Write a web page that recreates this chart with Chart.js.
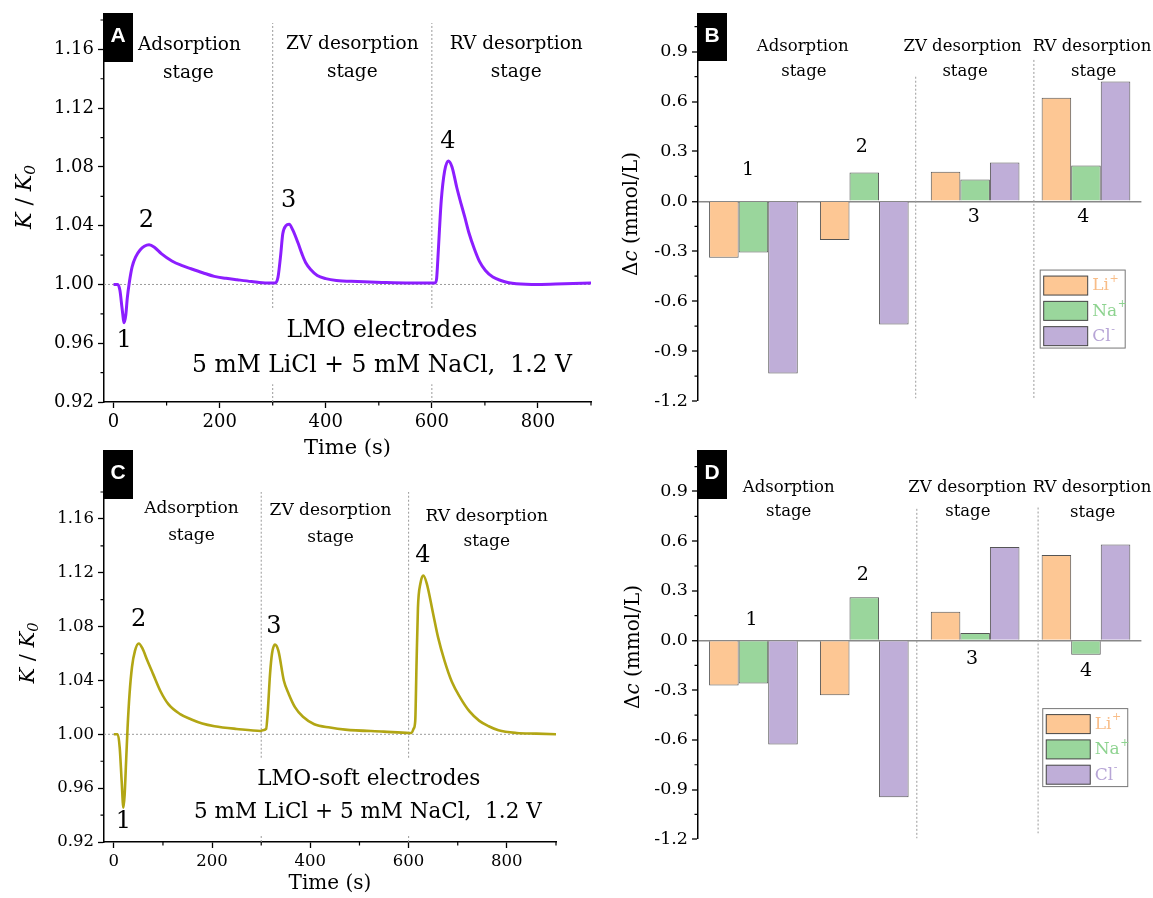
<!DOCTYPE html>
<html>
<head>
<meta charset="utf-8">
<script src="https://cdn.jsdelivr.net/npm/chart.js@4.4.1/dist/chart.umd.min.js"></script>
<style>
  body { margin: 0; background: #fff; }
  #wrap { position: relative; width: 1153px; height: 898px; overflow: hidden; }
  canvas { position: absolute; }
</style>
</head>
<body>
<div id="wrap">
  <canvas id="chartA" width="600" height="470" style="left:0px;top:0px"></canvas>
  <canvas id="chartC" width="600" height="458" style="left:0px;top:440px"></canvas>
  <canvas id="chartB" width="553" height="440" style="left:600px;top:0px"></canvas>
  <canvas id="chartD" width="553" height="458" style="left:600px;top:440px"></canvas>
</div>
<script>
// ---- data ----
const kTicks = [0.92, 0.96, 1.00, 1.04, 1.08, 1.12, 1.16];
const timeTicks = [0, 200, 400, 600, 800];
const dcTicks = [-1.2, -0.9, -0.6, -0.3, 0, 0.3, 0.6, 0.9];

// panel A, LMO electrodes
const timeA = [0, 8, 12, 16, 20, 23, 26, 30, 35, 42, 50, 58, 67, 78, 90, 110, 128, 146, 168, 190, 212, 233, 260, 290,
  304, 310, 315, 319, 325, 331, 338, 348, 355, 362, 372, 384, 400, 420, 460, 506, 560,
  606, 609, 610.5, 614, 617.7, 624, 631, 638, 647, 655, 662, 670, 680, 690, 701, 715, 730, 745, 759, 800, 850, 900];
const ratioA = [1.000, 1.000, 0.996, 0.984, 0.974, 0.979, 0.991, 1.002, 1.012, 1.019, 1.0235, 1.026, 1.027, 1.025, 1.021, 1.016, 1.013, 1.0107, 1.008, 1.0055, 1.0042, 1.0032, 1.002, 1.001,
  1.001, 1.005, 1.020, 1.0345, 1.040, 1.041, 1.037, 1.028, 1.021, 1.015, 1.010, 1.0061, 1.004, 1.0027, 1.002, 1.0014, 1.001,
  1.001, 1.004, 1.012, 1.035, 1.057, 1.077, 1.084, 1.080, 1.066, 1.055, 1.046, 1.035, 1.0243, 1.0155, 1.0095, 1.005, 1.0027, 1.0012, 1.0005, 1.000, 1.0005, 1.001];

// panel C, LMO-soft electrodes
const timeC = [0, 8, 12, 16, 19.5, 22, 25, 28, 32, 37, 43, 50.8, 58, 68, 80, 95, 111, 135, 158, 180, 205, 250, 299,
  303, 310, 313, 318, 322, 328, 335, 346, 356, 369, 385, 408, 440, 471, 549, 602,
  606, 610, 613.5, 616, 619, 624, 630, 637, 650, 660, 673, 688, 705, 724, 744, 763, 783, 820, 860, 900];
const ratioC = [1.000, 1.000, 0.990, 0.965, 0.9455, 0.955, 0.980, 1.005, 1.030, 1.050, 1.062, 1.0675, 1.064, 1.055, 1.0447, 1.032, 1.0224, 1.015, 1.011, 1.008, 1.006, 1.004, 1.0025,
  1.003, 1.004, 1.015, 1.045, 1.060, 1.0666, 1.062, 1.040, 1.030, 1.020, 1.013, 1.0075, 1.005, 1.0035, 1.002, 1.001,
  1.001, 1.004, 1.010, 1.050, 1.094, 1.112, 1.118, 1.112, 1.0894, 1.072, 1.0547, 1.039, 1.0273, 1.017, 1.010, 1.006, 1.003, 1.001, 1.0005, 1.000];

// panels B and D, concentration change (mmol/L) per stage
const stages = ['1', '2', '3', '4'];
const ions = ['Li', 'Na', 'Cl'];
const ionCharge = ['+', '+', '-'];
const liB = [-0.339, -0.233, 0.178, 0.623];
const naB = [-0.307, 0.174, 0.132, 0.216];
const clB = [-1.034, -0.740, 0.234, 0.721];
const liD = [-0.271, -0.331, 0.173, 0.516];
const naD = [-0.259, 0.261, 0.046, -0.086];
const clD = [-0.628, -0.946, 0.564, 0.580];

const SERIF = '"DejaVu Serif", serif';
const fills = ['#FDC794', '#9AD69C', '#BFAED8'];
const textCols = ['#F8BD88', '#8ED390', '#B7A5D6'];

function drawParts(ctx, parts, cx, cy, size) {
  ctx.save();
  ctx.translate(cx, cy);
  ctx.rotate(-Math.PI / 2);
  const fonts = parts.map(p => (p.it ? 'italic ' : '') + (p.sub ? size * 0.7 : size) + 'px ' + SERIF);
  let w = 0;
  parts.forEach((p, i) => { ctx.font = fonts[i]; w += ctx.measureText(p.t).width; });
  let xx = -w / 2;
  ctx.textBaseline = 'middle';
  ctx.textAlign = 'left';
  ctx.fillStyle = '#000';
  parts.forEach((p, i) => {
    ctx.font = fonts[i];
    ctx.fillText(p.t, xx, p.sub ? size * 0.28 : 0);
    xx += ctx.measureText(p.t).width;
  });
  ctx.restore();
}

function minorTicks(ctx, scale, ticks, horizontal, ca) {
  const half = (ticks[1] - ticks[0]) / 2;
  ctx.beginPath();
  for (let v = ticks[0] - half; v <= scale.max + 1e-9; v += 2 * half) {
    if (v < scale.min - 1e-9) continue;
    const p = scale.getPixelForValue(v);
    if (horizontal) { ctx.moveTo(p, ca.bottom); ctx.lineTo(p, ca.bottom + 3.5); }
    else { ctx.moveTo(ca.left, p); ctx.lineTo(ca.left - 3.5, p); }
  }
  ctx.stroke();
}

const decor = {
  id: 'decor',
  beforeDatasetsDraw(chart, args, o) {
    const { ctx, chartArea: ca, scales: { x, y } } = chart;
    ctx.save();
    ctx.strokeStyle = '#9a9a9a';
    ctx.lineWidth = 1;
    ctx.setLineDash([2, 2]);
    (o.vlines || []).forEach(l => {
      const px = x.getPixelForValue(l.x);
      l.segs.forEach(s => {
        ctx.beginPath();
        ctx.moveTo(px, y.getPixelForValue(s[0]));
        ctx.lineTo(px, y.getPixelForValue(s[1]));
        ctx.stroke();
      });
    });
    if (o.hline !== undefined) {
      const py = y.getPixelForValue(o.hline);
      ctx.beginPath();
      ctx.moveTo(ca.left, py);
      ctx.lineTo(ca.right, py);
      ctx.stroke();
    }
    ctx.restore();
  },
  afterDraw(chart, args, o) {
    const { ctx, chartArea: ca, scales: { x, y } } = chart;
    ctx.save();
    ctx.strokeStyle = '#000';
    ctx.lineWidth = 1.2;
    minorTicks(ctx, y, o.yTicks, false, ca);
    if (o.xTicks) minorTicks(ctx, x, o.xTicks, true, ca);

    ctx.fillStyle = '#000';
    ctx.textAlign = 'center';
    ctx.textBaseline = 'middle';
    o.texts.forEach(t => {
      ctx.font = t.s + 'px ' + SERIF;
      ctx.fillText(t.t, x.getPixelForValue(t.x), y.getPixelForValue(t.y));
    });

    // panel letter
    ctx.fillStyle = '#000';
    ctx.fillRect(ca.left - 1, o.box[0], 30, o.box[1] - o.box[0]);
    ctx.fillStyle = '#fff';
    ctx.font = 'bold 21px "Liberation Sans", Arial, sans-serif';
    ctx.fillText(o.letter, ca.left + 14, (o.box[0] + o.box[1]) / 2 - 1);

    drawParts(ctx, o.yTitle.parts, o.yTitle.x, o.yTitle.y, o.yTitle.s);

    if (o.legend) {
      const lx = x.getPixelForValue(o.legend.x), ly = y.getPixelForValue(o.legend.y);
      ctx.lineWidth = 1;
      ctx.strokeStyle = '#777';
      ctx.strokeRect(lx, ly, 85, 78);
      ions.forEach((ion, i) => {
        const sy = ly + 6 + i * 25.3;
        ctx.fillStyle = fills[i];
        ctx.fillRect(lx + 3.5, sy, 44, 19);
        ctx.strokeStyle = '#444';
        ctx.strokeRect(lx + 3.5, sy, 44, 19);
        ctx.fillStyle = textCols[i];
        ctx.textAlign = 'left';
        ctx.font = '17px ' + SERIF;
        ctx.fillText(ion, lx + 52, sy + 10);
        const w = ctx.measureText(ion).width;
        ctx.font = '11px ' + SERIF;
        ctx.fillText(ionCharge[i], lx + 52 + w + 0.5, sy + 3);
      });
    }
    ctx.restore();
  }
};

function lineChart(id, xs, ys, color, lw, xMin, o) {
  return new Chart(document.getElementById(id), {
    type: 'line',
    data: {
      datasets: [{
        data: xs.map((t, i) => ({ x: t, y: ys[i] })),
        borderColor: color, borderWidth: lw, pointRadius: 0,
        cubicInterpolationMode: 'monotone', fill: false
      }]
    },
    options: {
      responsive: false, animation: false, events: [],
      layout: { padding: o.pad },
      plugins: { legend: { display: false }, tooltip: { enabled: false }, decor: o },
      scales: {
        x: {
          type: 'linear', min: xMin, max: 900,
          afterBuildTicks: s => { s.ticks = timeTicks.map(v => ({ value: v })); },
          afterFit: s => { s.height = o.xh; },
          ticks: { autoSkip: false, maxRotation: 0, padding: 4, color: '#000', font: { family: SERIF, size: o.tick } },
          grid: { drawOnChartArea: false, tickLength: 6, color: '#000', tickWidth: 1.3 },
          border: { color: '#000', width: 1.5 },
          title: { display: true, text: 'Time (s)', color: '#000', font: { family: SERIF, size: o.xTitle[0] }, padding: { top: 0, bottom: o.xTitle[1] } }
        },
        y: {
          min: 0.92, max: 1.18,
          afterBuildTicks: s => { s.ticks = kTicks.map(v => ({ value: v })); },
          afterFit: s => { s.width = o.yw; },
          ticks: { autoSkip: false, padding: 4, color: '#000', font: { family: SERIF, size: o.tick }, callback: v => v.toFixed(2) },
          grid: { drawOnChartArea: false, tickLength: 6, color: '#000', tickWidth: 1.3 },
          border: { color: '#000', width: 1.5 }
        }
      }
    },
    plugins: [decor]
  });
}

function barChart(id, li, na, cl, o) {
  const sets = [li, na, cl].map((d, i) => ({
    label: ions[i] + ionCharge[i], data: d,
    backgroundColor: fills[i], borderColor: '#555', borderWidth: 1
  }));
  return new Chart(document.getElementById(id), {
    type: 'bar',
    data: { labels: stages, datasets: sets },
    options: {
      responsive: false, animation: false, events: [],
      layout: { padding: o.pad },
      datasets: { bar: { categoryPercentage: 0.8, barPercentage: 1 } },
      plugins: { legend: { display: false }, tooltip: { enabled: false }, decor: o },
      scales: {
        x: { display: false },
        y: {
          min: -1.2, max: 1.12,
          afterBuildTicks: s => { s.ticks = dcTicks.map(v => ({ value: v })); },
          afterFit: s => { s.width = o.yw; },
          ticks: { autoSkip: false, padding: 4, color: '#000', font: { family: SERIF, size: o.tick }, callback: v => v.toFixed(1) },
          grid: {
            drawOnChartArea: true, tickLength: 6, tickColor: '#000', tickWidth: 1.3,
            color: c => (c.tick && c.tick.value === 0 ? '#888' : 'rgba(0,0,0,0)'),
            lineWidth: c => (c.tick && c.tick.value === 0 ? 1.5 : 0)
          },
          border: { color: '#000', width: 1.5 }
        }
      }
    },
    plugins: [decor]
  });
}

const kTitle = [{ t: 'K', it: true }, { t: ' / ' }, { t: 'K', it: true }, { t: '0', it: true, sub: true }];
const dcTitle = [{ t: '\u0394' }, { t: 'c', it: true }, { t: ' (mmol/L)' }];

lineChart('chartA', timeA, ratioA, '#8C1EFF', 3, -18, {
  pad: { left: 0, top: 20, right: 9, bottom: 0 }, xh: 68, yw: 104, tick: 18, xTitle: [21, 8.4],
  yTicks: kTicks, xTicks: timeTicks, hline: 1.0, letter: 'A', box: [13, 62],
  yTitle: { parts: kTitle, x: 25, y: 197, s: 22 },
  vlines: [{ x: 300, segs: [[0.984, 1.178], [0.92, 0.932]] }, { x: 600, segs: [[0.984, 1.178], [0.92, 0.932]] }],
  texts: [
    { t: 'Adsorption', x: 143, y: 1.163, s: 18.5 }, { t: 'stage', x: 141, y: 1.1439, s: 18.5 },
    { t: 'ZV desorption', x: 450, y: 1.1636, s: 18.5 }, { t: 'stage', x: 450, y: 1.1445, s: 18.5 },
    { t: 'RV desorption', x: 759, y: 1.1636, s: 18.5 }, { t: 'stage', x: 759, y: 1.1445, s: 18.5 },
    { t: '1', x: 20, y: 0.9618, s: 24 }, { t: '2', x: 62, y: 1.0436, s: 24 },
    { t: '3', x: 330, y: 1.0573, s: 24 }, { t: '4', x: 630, y: 1.097, s: 24 },
    { t: 'LMO electrodes', x: 506, y: 0.9686, s: 23.5 },
    { t: '5 mM LiCl + 5 mM NaCl,  1.2 V', x: 506, y: 0.9448, s: 23.5 }
  ]
});

lineChart('chartC', timeC, ratioC, '#B2A614', 2.6, -20, {
  pad: { left: 0, top: 52, right: 44, bottom: 0 }, xh: 56, yw: 104, tick: 16.5, xTitle: [20, 2],
  yTicks: kTicks, xTicks: timeTicks, hline: 1.0, letter: 'C', box: [10, 59],
  yTitle: { parts: kTitle, x: 28.7, y: 213, s: 21 },
  vlines: [{ x: 300, segs: [[0.9826, 1.18], [0.92, 0.926]] }, { x: 600, segs: [[0.9826, 1.18], [0.92, 0.926]] }],
  texts: [
    { t: 'Adsorption', x: 158, y: 1.1677, s: 17 }, { t: 'stage', x: 158, y: 1.1478, s: 17 },
    { t: 'ZV desorption', x: 441, y: 1.1664, s: 17 }, { t: 'stage', x: 441, y: 1.146, s: 17 },
    { t: 'RV desorption', x: 759, y: 1.162, s: 17 }, { t: 'stage', x: 759, y: 1.1428, s: 17 },
    { t: '1', x: 19.5, y: 0.935, s: 24 }, { t: '2', x: 50.7, y: 1.085, s: 24 },
    { t: '3', x: 326, y: 1.080, s: 24 }, { t: '4', x: 629, y: 1.133, s: 24 },
    { t: 'LMO-soft electrodes', x: 519, y: 0.9665, s: 21.5 },
    { t: '5 mM LiCl + 5 mM NaCl,  1.2 V', x: 517, y: 0.9423, s: 21.5 }
  ]
});

barChart('chartB', liB, naB, clB, {
  pad: { left: 0, top: 15, right: 11.6, bottom: 39 }, yw: 98, tick: 17.5,
  yTicks: dcTicks, letter: 'B', box: [13, 61],
  yTitle: { parts: dcTitle, x: 31.7, y: 214, s: 20 },
  legend: { x: 2.587, y: -0.413 },
  vlines: [{ x: 1.464, segs: [[0.749, -1.183]] }, { x: 2.53, segs: [[0.85, -1.183]] }],
  texts: [
    { t: 'Adsorption', x: 0.445, y: 0.93, s: 16.5 }, { t: 'stage', x: 0.455, y: 0.779, s: 16.5 },
    { t: 'ZV desorption', x: 1.887, y: 0.928, s: 16.5 }, { t: 'stage', x: 1.909, y: 0.779, s: 16.5 },
    { t: 'RV desorption', x: 3.054, y: 0.928, s: 16.5 }, { t: 'stage', x: 3.07, y: 0.779, s: 16.5 },
    { t: '1', x: -0.048, y: 0.188, s: 19 }, { t: '2', x: 0.977, y: 0.328, s: 19 },
    { t: '3', x: 1.989, y: -0.093, s: 19 }, { t: '4', x: 2.975, y: -0.093, s: 19 }
  ]
});

barChart('chartD', liD, naD, clD, {
  pad: { left: 0, top: 15, right: 11.6, bottom: 58.7 }, yw: 98, tick: 17.5,
  yTicks: dcTicks, letter: 'D', box: [10, 59],
  yTitle: { parts: dcTitle, x: 33.5, y: 207, s: 20 },
  legend: { x: 2.61, y: -0.411 },
  vlines: [{ x: 1.474, segs: [[0.795, -1.193]] }, { x: 2.568, segs: [[0.803, -1.163]] }],
  texts: [
    { t: 'Adsorption', x: 0.318, y: 0.923, s: 16.5 }, { t: 'stage', x: 0.318, y: 0.779, s: 16.5 },
    { t: 'ZV desorption', x: 1.931, y: 0.923, s: 16.5 }, { t: 'stage', x: 1.934, y: 0.779, s: 16.5 },
    { t: 'RV desorption', x: 3.054, y: 0.92, s: 16.5 }, { t: 'stage', x: 3.061, y: 0.773, s: 16.5 },
    { t: '1', x: -0.016, y: 0.125, s: 19 }, { t: '2', x: 0.987, y: 0.396, s: 19 },
    { t: '3', x: 1.973, y: -0.110, s: 19 }, { t: '4', x: 3.001, y: -0.185, s: 19 }
  ]
});
</script>
</body>
</html>
